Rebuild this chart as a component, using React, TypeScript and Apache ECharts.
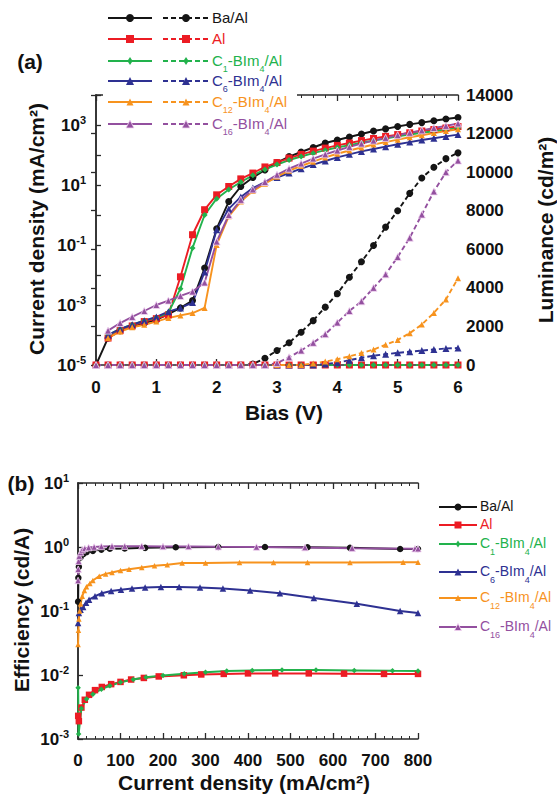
import React, { useEffect, useRef } from 'react';
import * as echarts from 'echarts';

const FONT = '"Liberation Sans", Arial, Helvetica, sans-serif';

// ---------- Panel (a): J–V–L data ----------
const biasV = [0, 0.2, 0.4, 0.6, 0.8, 1.0, 1.2, 1.4, 1.6, 1.8, 2.0, 2.2, 2.4, 2.6, 2.8, 3.0, 3.2, 3.4, 3.6, 3.8, 4.0, 4.2, 4.4, 4.6, 4.8, 5.0, 5.2, 5.4, 5.6, 5.8, 6.0];

// current density (mA/cm2)
const jBaAl = [1e-5, 8e-5, 1.4e-4, 2e-4, 2.5e-4, 3.2e-4, 5e-4, 8e-4, 1.4e-3, 1.7e-2, 0.35, 2.8, 8.9, 17.8, 31.6, 56, 89, 126, 178, 251, 316, 398, 501, 631, 741, 891, 1047, 1202, 1380, 1585, 1778];
const jAl = [null, 7.9e-5, 1.4e-4, 2e-4, 2.8e-4, 3.5e-4, 4.7e-4, 8.7e-3, 0.22, 1.5, 4.7, 8.9, 16, 25, 40, 56, 79, 105, 135, 170, 209, 251, 302, 355, 417, 479, 550, 631, 708, 794, 891];
const jC1 = [null, 1e-4, 1.6e-4, 2.2e-4, 3e-4, 3.8e-4, 5.6e-4, 3.5e-3, 0.08, 1.0, 3.5, 7.1, 12.6, 21, 33, 48, 68, 89, 115, 145, 178, 214, 257, 302, 355, 417, 479, 550, 617, 692, 776];
const jC6 = [null, 1e-4, 1.6e-4, 2.2e-4, 3e-4, 4e-4, 6e-4, 8e-4, 1.2e-3, 1.26e-2, 0.32, 1.6, 4, 7.9, 12.6, 17.8, 25, 35, 48, 63, 83, 105, 132, 158, 190, 229, 269, 316, 363, 417, 479];
const jC12 = [null, 8e-5, 1.3e-4, 1.8e-4, 2.2e-4, 2.8e-4, 3.7e-4, 4.5e-4, 5.4e-4, 8e-4, 0.1, 0.9, 2.8, 6.3, 11, 19, 30, 43, 60, 83, 110, 141, 178, 224, 269, 324, 389, 457, 537, 631, 724];
const jC16 = [null, 1.4e-4, 2.5e-4, 4e-4, 6.3e-4, 1e-3, 1.4e-3, 2e-3, 2.8e-3, 5.6e-3, 0.13, 1.0, 3.2, 7.1, 12.6, 22, 35, 52, 76, 105, 141, 186, 240, 302, 372, 457, 550, 661, 794, 933, 1122];

// luminance (cd/m2)
const lBaAl = [0, 0, 0, 0, 0, 0, 0, 0, 0, 0, 0, 0, 0, 50, 350, 750, 1150, 1700, 2300, 3000, 3700, 4550, 5350, 6200, 7150, 8000, 8900, 9700, 10250, 10700, 11000];
const lAl = [0, 0, 0, 0, 0, 0, 0, 0, 0, 0, 0, 0, 0, 0, 0, 0, 0, 0, 0, 0, 0, 0, 0, 0, 0, 0, 0, 0, 0, 0, 0];
const lC1 = [0, 0, 0, 0, 0, 0, 0, 0, 0, 0, 0, 0, 0, 0, 0, 0, 0, 0, 0, 0, 0, 0, 0, 0, 0, 0, 0, 0, 0, 0, 0];
const lC6 = [0, 0, 0, 0, 0, 0, 0, 0, 0, 0, 0, 0, 0, 0, 0, 0, 0, 0, 0, 50, 120, 250, 380, 480, 560, 630, 690, 750, 800, 860, 880];
const lC12 = [0, 0, 0, 0, 0, 0, 0, 0, 0, 0, 0, 0, 0, 0, 0, 0, 0, 0, 80, 180, 300, 450, 620, 800, 1050, 1300, 1650, 2100, 2700, 3400, 4500];
const lC16 = [0, 0, 0, 0, 0, 0, 0, 0, 0, 0, 0, 0, 0, 0, 0, 100, 400, 750, 1150, 1600, 2200, 2800, 3300, 4000, 4700, 5600, 6600, 7800, 9000, 10000, 10600];

// ---------- Panel (b): efficiency vs current density ----------
const effJBaAl = [0.3, 0.8, 2, 6, 12, 20, 35, 55, 75, 110, 158, 230, 330, 440, 540, 640, 758, 800];
const effBaAl = [0.14, 0.33, 0.49, 0.69, 0.77, 0.83, 0.87, 0.91, 0.94, 0.95, 0.97, 0.99, 1.0, 1.0, 0.99, 0.97, 0.93, 0.93];
const effJAl = [0.5, 2, 8, 16, 26, 40, 56, 78, 100, 125, 155, 190, 249, 290, 343, 400, 464, 543, 626, 720, 800];
const effAl = [0.0023, 0.0019, 0.0031, 0.0041, 0.0049, 0.0058, 0.0065, 0.0072, 0.0078, 0.0085, 0.009, 0.0095, 0.0099, 0.0102, 0.0104, 0.0106, 0.0106, 0.0106, 0.0105, 0.0104, 0.0104];
const effJC1 = [0.3, 1.5, 8, 20, 35, 55, 75, 100, 130, 160, 200, 250, 300, 350, 410, 480, 560, 650, 740, 800];
const effC1 = [0.0063, 0.0012, 0.003, 0.0042, 0.005, 0.006, 0.0068, 0.0077, 0.0085, 0.0092, 0.0098, 0.0105, 0.011, 0.0115, 0.0118, 0.012, 0.012, 0.0118, 0.0116, 0.0115];
const effJC6 = [0.2, 2, 6, 12, 19, 26, 40, 56, 78, 101, 127, 158, 195, 238, 287, 341, 405, 475, 555, 656, 758, 800];
const effC6 = [0.065, 0.093, 0.105, 0.115, 0.135, 0.15, 0.17, 0.19, 0.205, 0.215, 0.225, 0.232, 0.237, 0.237, 0.233, 0.225, 0.21, 0.19, 0.16, 0.13, 0.1, 0.093];
const effJC12 = [0.2, 1, 2, 4, 6, 10, 15, 20, 28, 35, 50, 65, 80, 100, 120, 150, 180, 210, 245, 300, 380, 460, 540, 640, 765, 800];
const effC12 = [0.03, 0.05, 0.075, 0.1, 0.13, 0.17, 0.21, 0.24, 0.27, 0.3, 0.35, 0.38, 0.4, 0.43, 0.45, 0.48, 0.51, 0.53, 0.56, 0.56, 0.57, 0.57, 0.57, 0.57, 0.58, 0.58];
const effJC16 = [0.2, 0.6, 1.5, 3, 6, 10, 16, 25, 38, 55, 80, 110, 150, 200, 260, 330, 420, 534, 645, 793, 800];
const effC16 = [0.3, 0.45, 0.6, 0.72, 0.82, 0.9, 0.95, 0.98, 1.0, 1.02, 1.03, 1.03, 1.03, 1.02, 1.02, 1.01, 1.0, 0.98, 0.96, 0.94, 0.94];

// axis ticks
const leftTicksA = [1e-5, 1e-3, 1e-1, 1e1, 1e3];
const rightTicksA = [0, 2000, 4000, 6000, 8000, 10000, 12000, 14000];

const COL = {
  black: '#151515',
  red: '#ec1c24',
  green: '#22b24c',
  blue: '#2e3192',
  orange: '#f7931e',
  purple: '#93509f',
};

type Spec = {
  name: string; color: string; symbol: string; size: number;
  j: (number | null)[]; l: number[]; ej: number[]; e: number[]; label: string;
  border?: string;
};

const specs: Spec[] = [
  { name: 'Ba/Al', color: COL.black, symbol: 'circle', size: 7, j: jBaAl, l: lBaAl, ej: effJBaAl, e: effBaAl, label: '{n|Ba/Al}' },
  { name: 'Al', color: COL.red, symbol: 'rect', size: 7, j: jAl, l: lAl, ej: effJAl, e: effAl, label: '{n|Al}' },
  { name: 'C1-BIm4/Al', color: COL.green, symbol: 'diamond', size: 6, j: jC1, l: lC1, ej: effJC1, e: effC1, label: '{n|C}{s|1}{n|-BIm}{s|4}{n|/Al}' },
  { name: 'C6-BIm4/Al', color: COL.blue, symbol: 'triangle', size: 7, j: jC6, l: lC6, ej: effJC6, e: effC6, label: '{n|C}{s|6}{n|-BIm}{s|4}{n|/Al}' },
  { name: 'C12-BIm4/Al', color: COL.orange, symbol: 'triangle', size: 6, j: jC12, l: lC12, ej: effJC12, e: effC12, label: '{n|C}{s|12}{n|-BIm}{s|4}{n|/Al}' },
  { name: 'C16-BIm4/Al', color: COL.purple, symbol: 'triangle', size: 7, j: jC16, l: lC16, ej: effJC16, e: effC16, label: '{n|C}{s|16}{n|-BIm}{s|4}{n|/Al}', border: '#f3d6f3' },
];

const AXIS_COLOR = '#2a2a2a';
const axisLine = { show: true, lineStyle: { color: AXIS_COLOR, width: 1.5 } };
const tickLabel = { fontSize: 17, fontWeight: 'bold' as const, fontFamily: FONT, color: '#111' };
const supRich = {
  b: { fontSize: 17, fontWeight: 'bold' as const, fontFamily: FONT, color: '#111', lineHeight: 22, verticalAlign: 'middle' as const },
  e: { fontSize: 11, fontWeight: 'bold' as const, fontFamily: FONT, color: '#111', lineHeight: 12, verticalAlign: 'top' as const },
};
const expLabel = (v: number) => `{b|10}{e|${Math.round(Math.log10(v))}}`;

function marker(sym: string, cx: number, cy: number, s: number, color: string, border?: string): any {
  const h = s / 2;
  const style: any = { fill: color };
  if (border) { style.stroke = border; style.lineWidth = 0.8; }
  if (sym === 'circle') return { type: 'circle', shape: { cx, cy, r: h }, style };
  if (sym === 'rect') return { type: 'rect', shape: { x: cx - h, y: cy - h, width: s, height: s }, style };
  if (sym === 'diamond') return { type: 'polygon', shape: { points: [[cx, cy - h - 0.5], [cx + h * 0.75, cy], [cx, cy + h + 0.5], [cx - h * 0.75, cy]] }, style };
  return { type: 'polygon', shape: { points: [[cx, cy - h], [cx + h, cy + h], [cx - h, cy + h]] }, style };
}

function legendRich(size: number, color: string) {
  return {
    n: { fontSize: size, fontFamily: FONT, fill: color, lineHeight: 16, verticalAlign: 'top' },
    s: { fontSize: Math.round(size * 0.62), fontFamily: FONT, fill: color, lineHeight: 20, verticalAlign: 'bottom' },
  };
}

function buildGraphics(): any[] {
  const g: any[] = [];
  // white box behind legend (a) (hides top frame)
  g.push({ type: 'rect', z: 100, shape: { x: 103, y: 86, width: 194, height: 48 }, style: { fill: '#fff' } });
  const rowsA = [18, 39, 61, 81, 102, 124];
  specs.forEach((s, i) => {
    const y = rowsA[i];
    g.push({ type: 'line', z: 101, shape: { x1: 108, y1: y, x2: 152, y2: y }, style: { stroke: s.color, lineWidth: 2 } });
    g.push({ ...marker(s.symbol, 130, y, s.size + 1, s.color, s.border), z: 102 });
    g.push({ type: 'line', z: 101, shape: { x1: 163, y1: y, x2: 208, y2: y }, style: { stroke: s.color, lineWidth: 2, lineDash: [5, 3] } });
    g.push({ ...marker(s.symbol, 186, y, s.size + 1, s.color, s.border), z: 102 });
    g.push({ type: 'text', z: 102, x: 212, y: y - 8, style: { text: s.label, fill: s.color, align: 'left', verticalAlign: 'top', rich: legendRich(15, s.color) } });
  });
  const rowsB = [507, 525, 544, 572, 598, 627];
  specs.forEach((s, i) => {
    const y = rowsB[i];
    g.push({ type: 'line', z: 101, shape: { x1: 439, y1: y, x2: 477, y2: y }, style: { stroke: s.color, lineWidth: 2 } });
    g.push({ ...marker(s.symbol, 458, y, s.size, s.color, s.border), z: 102 });
    g.push({ type: 'text', z: 102, x: 480, y: y - 8, style: { text: s.label, fill: s.color, align: 'left', verticalAlign: 'top', rich: legendRich(14, s.color) } });
  });
  const titleStyle = { fontSize: 21, fontWeight: 'bold', fontFamily: FONT, fill: '#111', align: 'center', verticalAlign: 'middle' };
  g.push({ type: 'text', x: 30, y: 61, style: { ...titleStyle, text: '(a)' } });
  g.push({ type: 'text', x: 21, y: 483, style: { ...titleStyle, text: '(b)' } });
  g.push({ type: 'text', x: 284, y: 412, style: { ...titleStyle, text: 'Bias (V)' } });
  g.push({ type: 'text', x: 36, y: 229, rotation: Math.PI / 2, style: { ...titleStyle, text: 'Current density (mA/cm²)' } });
  g.push({ type: 'text', x: 545, y: 230, rotation: Math.PI / 2, style: { ...titleStyle, text: 'Luminance (cd/m²)' } });
  g.push({ type: 'text', x: 21, y: 610, rotation: Math.PI / 2, style: { ...titleStyle, text: 'Efficiency (cd/A)' } });
  g.push({ type: 'text', x: 244, y: 782, style: { ...titleStyle, text: 'Current density (mA/cm²)' } });
  return g;
}

function buildOption(): any {
  const series: any[] = [];
  specs.forEach((s) => {
    const common = {
      symbol: s.symbol,
      symbolSize: s.size,
      itemStyle: { color: s.color, borderColor: s.border || s.color, borderWidth: s.border ? 0.8 : 0 },
      emphasis: { disabled: true },
    };
    series.push({
      ...common,
      name: s.name + ' J',
      type: 'line',
      xAxisIndex: 0,
      yAxisIndex: 0,
      data: biasV.map((v, i) => [v, s.j[i]]).filter((p) => p[1] != null),
      lineStyle: { color: s.color, width: 1.9 },
    });
    series.push({
      ...common,
      name: s.name + ' L',
      type: 'line',
      xAxisIndex: 0,
      yAxisIndex: 1,
      data: biasV.map((v, i) => [v, s.l[i]]),
      lineStyle: { color: s.color, width: 1.9, type: [5, 3] },
    });
    series.push({
      ...common,
      symbolSize: s.size - 0.5,
      name: s.name + ' eff',
      type: 'line',
      xAxisIndex: 2,
      yAxisIndex: 2,
      data: s.ej.map((x, i) => [x, s.e[i]]),
      lineStyle: { color: s.color, width: 2 },
    });
  });

  return {
    animation: false,
    backgroundColor: '#ffffff',
    textStyle: { fontFamily: FONT },
    grid: [
      { left: 96, top: 95, width: 362, height: 270 },
      { left: 78, top: 483, width: 340, height: 256 },
    ],
    xAxis: [
      {
        type: 'value', gridIndex: 0, position: 'bottom', min: 0, max: 6, interval: 1,
        axisLine, splitLine: { show: false },
        axisTick: { inside: true, length: 6, lineStyle: { color: AXIS_COLOR, width: 1.3 } },
        minorTick: { show: true, splitNumber: 5, length: 3, lineStyle: { color: AXIS_COLOR, width: 1 } },
        axisLabel: { ...tickLabel, margin: 14 },
      },
      {
        type: 'value', gridIndex: 0, position: 'top', min: 0, max: 6, interval: 1,
        axisLine, splitLine: { show: false },
        axisTick: { inside: true, length: 6, lineStyle: { color: AXIS_COLOR, width: 1.3 } },
        minorTick: { show: true, splitNumber: 5, length: 3, lineStyle: { color: AXIS_COLOR, width: 1 } },
        axisLabel: { show: false },
      },
      {
        type: 'value', gridIndex: 1, position: 'bottom', min: 0, max: 800, interval: 100,
        axisLine, splitLine: { show: false },
        axisTick: { inside: true, length: 6, lineStyle: { color: AXIS_COLOR, width: 1.3 } },
        minorTick: { show: true, splitNumber: 5, length: 3, lineStyle: { color: AXIS_COLOR, width: 1 } },
        axisLabel: { ...tickLabel, margin: 13 },
      },
      {
        type: 'value', gridIndex: 1, position: 'top', min: 0, max: 800, interval: 100,
        axisLine, splitLine: { show: false },
        axisTick: { inside: true, length: 6, lineStyle: { color: AXIS_COLOR, width: 1.3 } },
        minorTick: { show: true, splitNumber: 5, length: 3, lineStyle: { color: AXIS_COLOR, width: 1 } },
        axisLabel: { show: false },
      },
    ],
    yAxis: [
      {
        type: 'log', logBase: 10, gridIndex: 0, position: 'left', min: 1e-5, max: 1e4, interval: 1,
        axisLine, splitLine: { show: false },
        axisTick: { inside: true, length: 5, lineStyle: { color: AXIS_COLOR, width: 1.3 } },
        axisLabel: {
          margin: 10,
          formatter: (v: number) => (leftTicksA.some((t) => Math.abs(Math.log10(t) - Math.log10(v)) < 1e-6) ? expLabel(v) : ''),
          rich: supRich,
        },
      },
      {
        type: 'value', gridIndex: 0, position: 'right', min: 0, max: 14000, interval: 2000,
        axisLine, splitLine: { show: false },
        axisTick: { inside: true, length: 5, lineStyle: { color: AXIS_COLOR, width: 1.3 } },
        axisLabel: { ...tickLabel, margin: 8, formatter: (v: number) => (rightTicksA.includes(v) ? String(v) : '') },
      },
      {
        type: 'log', logBase: 10, gridIndex: 1, position: 'left', min: 1e-3, max: 10, interval: 1,
        axisLine, splitLine: { show: false },
        axisTick: { inside: true, length: 5, lineStyle: { color: AXIS_COLOR, width: 1.3 } },
        axisLabel: { margin: 9, formatter: expLabel, rich: supRich },
      },
      {
        type: 'value', gridIndex: 1, position: 'right', min: 0, max: 1,
        axisLine, splitLine: { show: false }, axisTick: { show: false }, axisLabel: { show: false },
      },
    ],
    series,
    graphic: buildGraphics(),
  };
}

export default function App() {
  const ref = useRef<HTMLDivElement>(null);
  useEffect(() => {
    if (!ref.current) return;
    const chart = echarts.init(ref.current, null, { renderer: 'svg' });
    chart.setOption(buildOption());
    return () => chart.dispose();
  }, []);
  return (
    <div
      ref={ref}
      style={{ position: 'fixed', left: 0, top: 0, width: 557, height: 802, background: '#fff' }}
    />
  );
}
